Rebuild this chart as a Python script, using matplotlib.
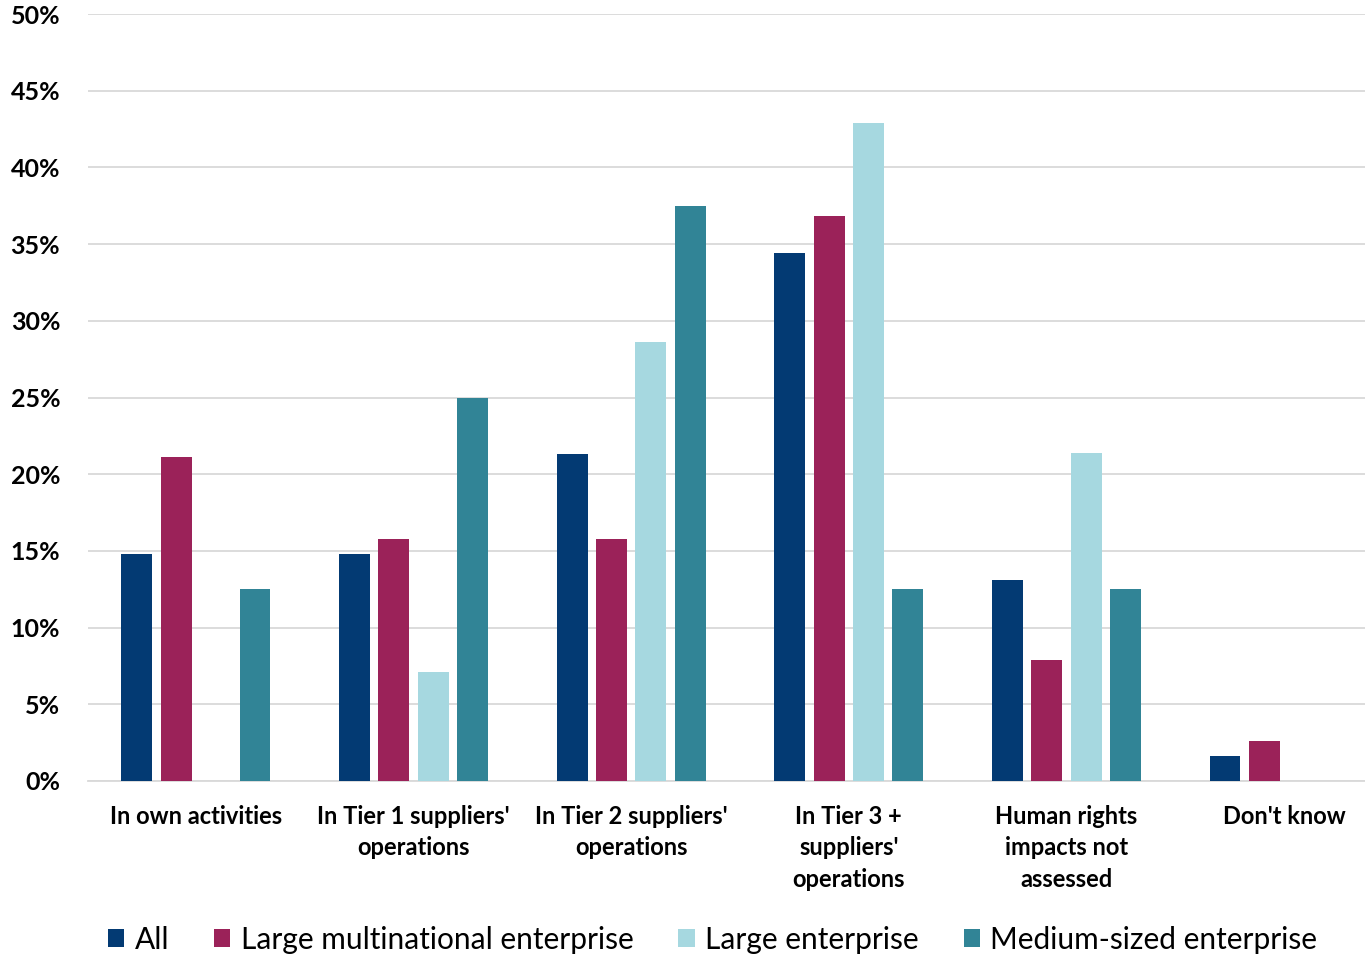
import numpy as np
import matplotlib.pyplot as plt
from matplotlib.ticker import PercentFormatter

categories = [
    "In own activities",
    "In Tier 1 suppliers'\noperations",
    "In Tier 2 suppliers'\noperations",
    "In Tier 3 +\nsuppliers'\noperations",
    "Human rights\nimpacts not\nassessed",
    "Don't know",
]
series_names = ["All", "Large multinational enterprise", "Large enterprise", "Medium-sized enterprise"]
all_vals = [14.8, 14.8, 21.3, 34.4, 13.1, 1.6]
lme_vals = [21.1, 15.8, 15.8, 36.8, 7.9, 2.6]
le_vals = [0.0, 7.1, 28.6, 42.9, 21.4, 0.0]
mse_vals = [12.5, 25.0, 37.5, 12.5, 12.5, 0.0]
colors = ["#033A73", "#9B2259", "#A6D8E0", "#318496"]

plt.rcParams['font.family'] = ['Lato', 'DejaVu Sans']

fig = plt.figure(figsize=(13.65, 9.57), dpi=100)
ax = fig.add_axes([88 / 1365, 176 / 957, 1277 / 1365, 767 / 957])

x = np.arange(len(categories))
width = 0.142
pitch = 0.181
for i, (vals, name, col) in enumerate(zip([all_vals, lme_vals, le_vals, mse_vals], series_names, colors)):
    ax.bar(x + (i - 1.5) * pitch, vals, width, color=col, label=name, zorder=3)

ax.set_xlim(-0.496, 5.372)
ax.set_ylim(0, 50)
ax.set_yticks(np.arange(0, 51, 5))
ax.yaxis.set_major_formatter(PercentFormatter(decimals=0))
ax.grid(axis='y', color='#D9D9D9', linewidth=1.3, zorder=0)
for s in ['top', 'right', 'left']:
    ax.spines[s].set_visible(False)
ax.spines['bottom'].set_color('#D9D9D9')
ax.spines['bottom'].set_linewidth(1.3)
ax.tick_params(axis='both', length=0)
ax.tick_params(axis='y', pad=20)
ax.tick_params(axis='x', pad=17)

ax.set_xticks(x)
ax.set_xticklabels(categories, fontsize=17, fontweight='bold', linespacing=1.45)
for lbl in ax.get_yticklabels():
    lbl.set_fontsize(18)
    lbl.set_fontweight('bold')

fig.legend(loc='center', bbox_to_anchor=(0.522, 0.018), ncol=4, frameon=False,
           fontsize=21.5, handlelength=0.55, handleheight=0.55, handletextpad=0.35,
           columnspacing=1.5)

fig.savefig('out.png', dpi=100)
